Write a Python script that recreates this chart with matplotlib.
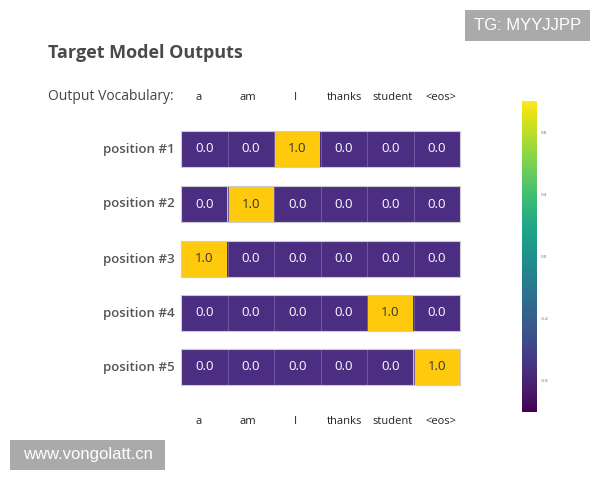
import matplotlib
matplotlib.use("Agg")
import matplotlib.pyplot as plt
from matplotlib.colors import ListedColormap
from matplotlib.patches import Rectangle
import numpy as np

vocab = ["a", "am", "I", "thanks", "student", "<eos>"]
positions = ["position #1", "position #2", "position #3", "position #4", "position #5"]
row1 = [0.0, 0.0, 1.0, 0.0, 0.0, 0.0]
row2 = [0.0, 1.0, 0.0, 0.0, 0.0, 0.0]
row3 = [1.0, 0.0, 0.0, 0.0, 0.0, 0.0]
row4 = [0.0, 0.0, 0.0, 0.0, 1.0, 0.0]
row5 = [0.0, 0.0, 0.0, 0.0, 0.0, 1.0]
rows = [row1, row2, row3, row4, row5]
cbar_ticks = [-0.8, -0.4, 0.0, 0.4, 0.8]

plt.rcParams['font.family'] = ['Open Sans', 'DejaVu Sans']
W, H = 600, 480
fig = plt.figure(figsize=(6, 4.8), dpi=100)

def fx(px):
    return px / W

def fy(py):
    return 1 - py / H

purple = "#4b2d82"
gold = "#ffc90e"
cmap = ListedColormap([purple, gold])
grey = "#555555"

x0, x1 = 181, 460
tops = [131, 186, 241, 295, 349]
rh = 36
for i, (top, vals) in enumerate(zip(tops, rows)):
    ax = fig.add_axes([fx(x0), fy(top + rh), fx(x1 - x0), rh / H])
    data = np.array([vals])
    ax.imshow(data, cmap=cmap, vmin=0, vmax=1, aspect='auto')
    for j in range(1, len(vocab)):
        ax.axvline(j - 0.5, color="#6b5b9e", lw=0.7)
    for j, v in enumerate(vals):
        ax.text(j, 0, f"{v:.1f}", ha='center', va='center', fontsize=9.5,
                color="#333333" if v > 0.5 else "white")
    ax.set_xticks([])
    ax.set_yticks([])
    for s in ax.spines.values():
        s.set_color("#cccccc")
        s.set_linewidth(0.8)
    fig.text(fx(175), fy(top + rh / 2), positions[i], ha='right', va='center',
             fontsize=9.5, color=grey, fontweight='semibold')

# vocabulary labels (slightly tighter spacing than the cells, as in the reference)
label_x = np.linspace(199, 441, len(vocab))
for cx, v in zip(label_x, vocab):
    fig.text(fx(cx), fy(97), v, ha='center', va='center', fontsize=8, color="#222222")
    fig.text(fx(cx), fy(421), v, ha='center', va='center', fontsize=8, color="#222222")

fig.text(fx(48), fy(53), "Target Model Outputs", ha='left', va='center',
         fontsize=13, fontweight='bold', color="#4a4a4a")
fig.text(fx(48), fy(97), "Output Vocabulary:", ha='left', va='center',
         fontsize=10, color="#444444")

# colorbar
cax = fig.add_axes([fx(522), fy(412), fx(15), (412 - 101) / H])
grad = np.linspace(-1, 1, 256).reshape(-1, 1)
cax.imshow(grad, cmap='viridis', aspect='auto', origin='lower', extent=[0, 1, -1, 1])
cax.set_xticks([])
cax.yaxis.tick_right()
cax.set_yticks(cbar_ticks)
cax.set_yticklabels([f"{t:.1f}" for t in cbar_ticks], fontsize=3.2, color="#666666")
cax.tick_params(axis='y', length=0, pad=3)
for s in cax.spines.values():
    s.set_visible(False)

# watermark boxes
def wm(xl, xr, yt, yb, txt):
    fig.patches.append(Rectangle((fx(xl), fy(yb)), fx(xr - xl), (yb - yt) / H,
                                 transform=fig.transFigure, fc="#aaaaaa", ec='none'))
    fig.text(fx((xl + xr) / 2), fy((yt + yb) / 2), txt, ha='center', va='center',
             fontsize=12, color="white", family=['Liberation Sans', 'DejaVu Sans'])

wm(465, 590, 10, 41, "TG: MYYJJPP")
wm(10, 165, 440, 470, "www.vongolatt.cn")

fig.savefig("out.png", dpi=100, facecolor="white")
